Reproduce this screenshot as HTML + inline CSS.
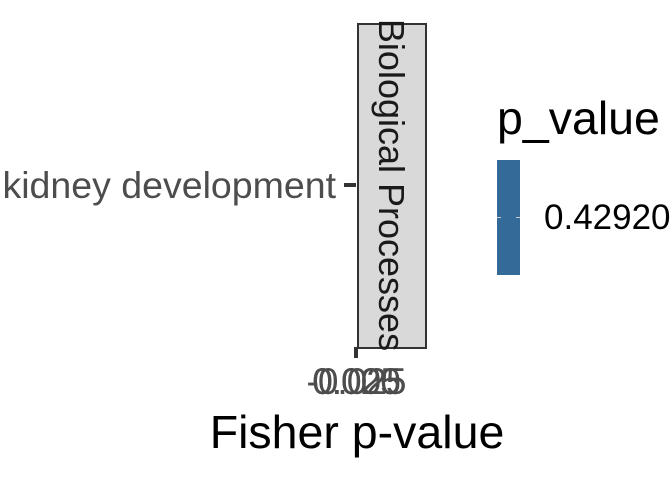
<!DOCTYPE html><html><head><style>
body{margin:0;width:672px;height:480px;background:#fff;overflow:hidden;position:relative;font-family:"Liberation Sans",sans-serif}
div{position:absolute;white-space:nowrap}
</style></head><body>
<div style="left:357px;top:23px;width:66px;height:322px;background:#d9d9d9;border:2px solid #333"></div>
<div style="left:391px;top:185px;width:0;height:0"><div style="transform:translate(-50%,-50%) rotate(90deg);left:0;top:0;font-size:36px;color:#1a1a1a;line-height:1">Biological Processes</div></div>
<div style="left:344px;top:183px;width:12px;height:4px;background:#333"></div>
<div style="left:354px;top:347px;width:4px;height:11px;background:#333"></div>
<div style="left:0;width:336px;text-align:right;top:164px;font-size:37.5px;color:#4d4d4d">kidney development</div>
<div style="left:256px;width:200px;text-align:center;top:361px;font-size:37px;color:#4d4d4d;letter-spacing:-1px">-0.025</div>
<div style="left:256px;width:200px;text-align:center;top:361px;font-size:37px;color:#4d4d4d;letter-spacing:-1px">0.000</div>
<div style="left:256px;width:200px;text-align:center;top:361px;font-size:37px;color:#4d4d4d;letter-spacing:-1px">0.025</div>
<div style="left:157px;width:400px;text-align:center;top:405px;font-size:46.5px;color:#000">Fisher p-value</div>
<div style="left:497px;top:91px;font-size:46.5px;color:#000">p_value</div>
<div style="left:497px;top:160px;width:23px;height:115px;background:#336a98"></div>
<div style="left:497px;top:217px;width:4px;height:1px;background:#ccc"></div>
<div style="left:516px;top:217px;width:4px;height:1px;background:#ccc"></div>
<div style="left:544px;top:198px;font-size:35px;color:#000">0.42920</div>
</body></html>
